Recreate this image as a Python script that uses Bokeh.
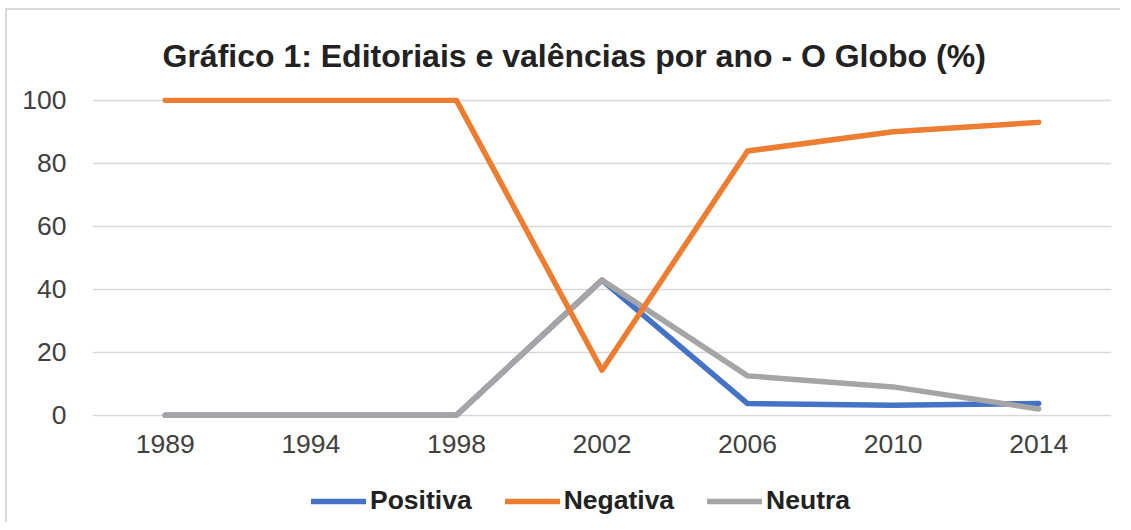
from bokeh.plotting import figure
from bokeh.models import FactorRange, Range1d, Legend, FixedTicker
from bokeh.embed import file_html
from bokeh.resources import INLINE

years = ["1989", "1994", "1998", "2002", "2006", "2010", "2014"]
positiva = [0, 0, 0, 42.9, 3.7, 3.2, 3.7]
negativa = [100, 100, 100, 14.3, 83.9, 90.0, 93.0]
neutra = [0, 0, 0, 42.9, 12.5, 9.0, 2.0]
y_ticks = [0, 20, 40, 60, 80, 100]

FONT = "Liberation Sans"

p = figure(width=1115, height=514, output_backend="svg", toolbar_location=None,
           x_range=FactorRange(*years), y_range=Range1d(-34.7, 100.9),
           min_border_left=85, min_border_right=11, min_border_top=87, min_border_bottom=0,
           title="Gráfico 1: Editoriais e valências por ano - O Globo (%)")
p.styles = {"margin-left": "5px", "margin-top": "8px",
            "border-left": "2px solid #d9d9d9", "border-top": "2px solid #d9d9d9"}

p.title.text_font = FONT
p.title.text_font_size = "32px"
p.title.text_font_style = "bold"
p.title.text_color = "#222222"
p.title.align = "left"
p.title.standoff = 47
p.title.offset = 70

p.outline_line_color = None
p.xgrid.grid_line_color = None
p.ygrid.grid_line_color = "#d9d9d9"
p.ygrid.grid_line_width = 1.5
p.yaxis.ticker = FixedTicker(ticks=y_ticks)
p.xaxis.fixed_location = 0

for ax in (p.xaxis[0], p.yaxis[0]):
    ax.axis_line_color = None
    ax.major_tick_line_color = None
    ax.minor_tick_line_color = None
    ax.major_tick_out = 0
    ax.major_tick_in = 0
    ax.minor_tick_out = 0
    ax.major_label_text_font = FONT
    ax.major_label_text_font_size = "26.5px"
    ax.major_label_text_color = "#404040"
p.xaxis.major_label_standoff = 20
p.yaxis.major_label_standoff = 26

kw = dict(line_width=5.5, line_cap="round", line_join="round")
r_pos = p.line(years, positiva, color="#4472C4", **kw)
r_neu = p.line(years, neutra, color="#A5A5A5", **kw)
r_neg = p.line(years, negativa, color="#ED7D31", **kw)

legend = Legend(items=[("Positiva", [r_pos]), ("Negativa", [r_neg]), ("Neutra", [r_neu])],
                orientation="horizontal", location=(219, 8),
                label_text_font=FONT, label_text_font_style="bold",
                label_text_font_size="26.5px", label_text_color="#222222",
                glyph_width=55, glyph_height=30, label_height=30,
                label_standoff=4, spacing=33, padding=0, margin=0,
                border_line_color=None, background_fill_alpha=0)
p.add_layout(legend)

open("out.html", "w").write(file_html(p, INLINE))
